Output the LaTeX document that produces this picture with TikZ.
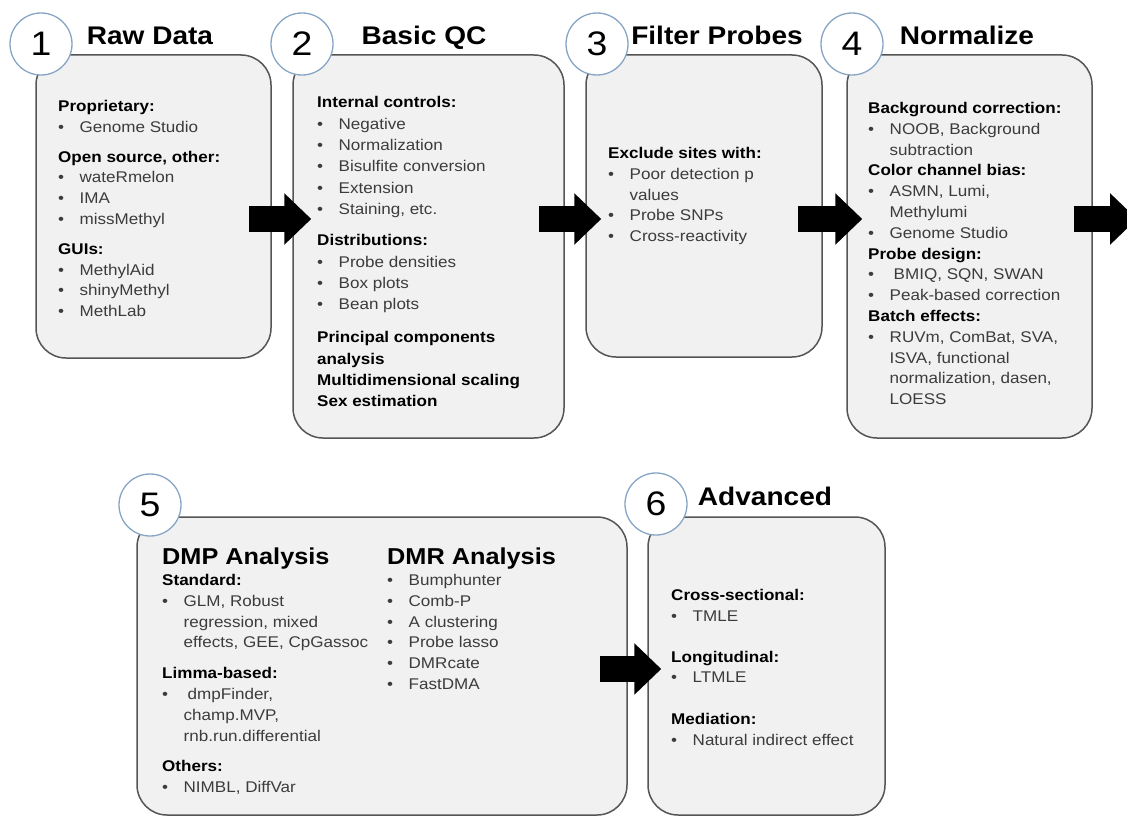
\documentclass[tikz,border=0pt]{standalone}
\usepackage{fontspec}
\setmainfont{Liberation Sans}[FakeStretch=1.1]
\usetikzlibrary{arrows.meta, positioning, calc}

\definecolor{boxfill}{HTML}{F1F1F1}
\definecolor{boxline}{HTML}{555555}
\definecolor{ringblue}{HTML}{86A4C4}
\definecolor{itemgray}{HTML}{3C3C3C}

\newcommand{\hd}[1]{\textcolor{black}{\textbf{#1}}}
\newcommand{\itm}{\makebox[21.5pt][l]{\textbullet}}
\newcommand{\cnt}{\hspace*{21.5pt}}

\begin{document}
\begin{tikzpicture}[
    x=1pt, y=-1pt,
    stage/.style={rectangle, draw=boxline, line width=1.5pt, fill=boxfill, rounded corners=30pt},
    numring/.style={circle, draw=ringblue, line width=1.3pt, fill=white, minimum size=62pt, inner sep=0pt, font=\fontsize{34}{34}\selectfont},
    heading/.style={anchor=base, inner sep=0pt, font=\fontsize{25.5}{26}\selectfont\bfseries},
    bighead/.style={anchor=base west, inner sep=0pt, font=\fontsize{23}{24}\selectfont\bfseries},
    listing/.style={anchor=north west, inner sep=0pt, align=left, text=itemgray, font=\fontsize{15.5}{20.8}\selectfont},
    blockarrow/.style={line width=26pt, -{Triangle[length=27pt, width=50pt]}}
]
\useasboundingbox (0,0) rectangle (1127,816);

% Stage boxes
\node[stage, minimum width=235pt, minimum height=303pt] (raw) at (153.5,206.5) {};
\node[stage, minimum width=271pt, minimum height=383pt] (qc) at (428.5,246.5) {};
\node[stage, minimum width=236pt, minimum height=302pt] (filter) at (704,206) {};
\node[stage, minimum width=245pt, minimum height=383pt] (norm) at (969.5,246.5) {};
\node[stage, minimum width=490pt, minimum height=298pt] (dm) at (382,666) {};
\node[stage, minimum width=237pt, minimum height=298pt] (adv) at (766.5,666) {};

% Arrows
\coordinate (toprow) at (0,219);
\coordinate (lowrow) at (0,669);
\coordinate (onward) at (1137,219);
\draw[blockarrow] ($(raw.east |- toprow)+(-23,0)$) -- ($(qc.west |- toprow)+(19,0)$);
\draw[blockarrow] ($(qc.east |- toprow)+(-26,0)$) -- ($(filter.west |- toprow)+(16,0)$);
\draw[blockarrow] ($(filter.east |- toprow)+(-25,0)$) -- ($(norm.west |- toprow)+(16,0)$);
\draw[blockarrow] ($(norm.east |- toprow)+(-19,0)$) -- (onward);
\draw[blockarrow] ($(dm.east |- lowrow)+(-28,0)$) -- ($(adv.west |- lowrow)+(14,0)$);

% Numbers and titles
\node[numring] (n1) at (41,44) {1};
\node[numring] (n2) at (302,44) {2};
\node[numring] (n3) at (597,44) {3};
\node[numring] (n4) at (852,44) {4};
\node[numring] (n5) at (150,505) {5};
\node[numring] (n6) at (656,504) {6};
\node[heading] (rawtitle) at (150,45) {Raw Data};
\node[heading] (qctitle) at (424,45) {Basic QC};
\node[heading] (filtertitle) at (717,45) {Filter Probes};
\node[heading] (normtitle) at (967,45) {Normalize};
\node[heading] (advtitle) at (765,505) {Advanced};

% Box contents
\node[listing] (rawlist) at (58,100) {\hd{Proprietary:}\\ \itm Genome Studio\\[9pt]\hd{Open source, other:}\\ \itm wateRmelon\\ \itm IMA\\ \itm missMethyl\\[9pt]\hd{GUIs:}\\ \itm MethylAid\\ \itm shinyMethyl\\ \itm MethLab};
\node[listing, font=\fontsize{15.5}{21.3}\selectfont] (qclist) at (317,96.5) {\hd{Internal controls:}\\ \itm Negative\\ \itm Normalization\\ \itm Bisulfite conversion\\ \itm Extension\\ \itm Staining, etc.\\[10pt]\hd{Distributions:}\\ \itm Probe densities\\ \itm Box plots\\ \itm Bean plots\\[12pt]\hd{Principal components}\\ \hd{analysis}\\ \hd{Multidimensional scaling}\\ \hd{Sex estimation}};
\node[listing] (filterlist) at (608,147) {\hd{Exclude sites with:}\\ \itm Poor detection p\\ \cnt values\\ \itm Probe SNPs\\ \itm Cross-reactivity};
\node[listing] (normlist) at (868,102) {\hd{Background correction:}\\ \itm NOOB, Background\\ \cnt subtraction\\ \hd{Color channel bias:}\\ \itm ASMN, Lumi,\\ \cnt Methylumi\\ \itm Genome Studio\\ \hd{Probe design:}\\ \itm\hspace{4pt}BMIQ, SQN, SWAN\\ \itm Peak-based correction\\ \hd{Batch effects:}\\ \itm RUVm, ComBat, SVA,\\ \cnt ISVA, functional\\ \cnt normalization, dasen,\\ \cnt LOESS};
\node[bighead] (dmphead) at (162,564) {DMP Analysis};
\node[listing] (dmplist) at (162,574) {\hd{Standard:}\\ \itm GLM, Robust\\ \cnt regression, mixed\\ \cnt effects, GEE, CpGassoc\\[10pt]\hd{Limma-based:}\\ \itm\hspace{4pt}dmpFinder,\\ \cnt champ.MVP,\\ \cnt rnb.run.differential\\[10pt]\hd{Others:}\\ \itm NIMBL, DiffVar};
\node[bighead] (dmrhead) at (387,564) {DMR Analysis};
\node[listing] (dmrlist) at (387,574) {\itm Bumphunter\\ \itm Comb-P\\ \itm A clustering\\ \itm Probe lasso\\ \itm DMRcate\\ \itm FastDMA};
\node[listing] (advlist) at (671,589) {\hd{Cross-sectional:}\\ \itm TMLE\\[20pt]\hd{Longitudinal:}\\ \itm LTMLE\\[21pt]\hd{Mediation:}\\ \itm Natural indirect effect};

\end{tikzpicture}
\end{document}
